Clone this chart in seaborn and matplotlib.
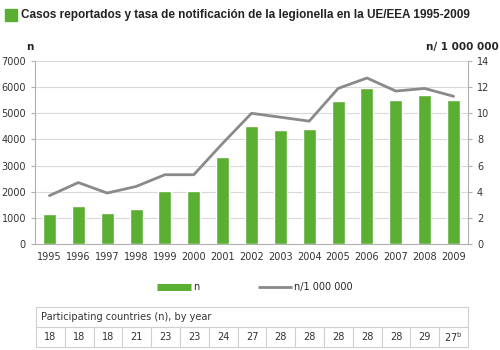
import matplotlib
matplotlib.use('Agg')
import matplotlib.pyplot as plt
import matplotlib.patches as mpatches
from matplotlib.lines import Line2D
import numpy as np
import seaborn as sns

years = ['1995', '1996', '1997', '1998', '1999', '2000', '2001', '2002',
         '2003', '2004', '2005', '2006', '2007', '2008', '2009']
cases = [1150, 1450, 1190, 1330, 2030, 2030, 3340, 4510,
         4370, 4400, 5480, 5980, 5520, 5700, 5520]
rates = [3.7, 4.7, 3.9, 4.4, 5.3, 5.3, 7.7, 10.0,
         9.7, 9.4, 11.9, 12.7, 11.7, 11.9, 11.3]
countries = ['18', '18', '18', '21', '23', '23', '24', '27',
             '28', '28', '28', '28', '28', '29', '27$^{\\mathrm{b}}$']

green = '#5aae32'
grey = '#8a8a8a'
gridc = '#d9d9d9'

sns.set_style('white')
plt.rcParams['font.family'] = ['DejaVu Sans']

fig = plt.figure(figsize=(5, 3.5), dpi=100)
ax = fig.add_axes([35/500, 106/350, 433/500, 183/350])

sns.barplot(x=years, y=cases, color=green, width=0.45, saturation=1, ax=ax, zorder=2)
ax.set_ylim(0, 7000)
ax.set_yticks(range(0, 7001, 1000))
ax.set_xlim(-0.5, len(years) - 0.5)
ax.yaxis.grid(True, color=gridc, lw=0.8, zorder=0)
ax.set_axisbelow(True)
for s in ['top', 'right']:
    ax.spines[s].set_visible(False)
ax.spines['left'].set_color('#b0b0b0')
ax.spines['bottom'].set_color('#b0b0b0')
ax.tick_params(axis='both', labelsize=7, colors='#333333', length=3, color='#b0b0b0')
ax.set_xticks(np.arange(-0.5, len(years), 1), minor=True)
ax.tick_params(axis='x', which='major', length=0, pad=6)
ax.tick_params(axis='x', which='minor', length=3, color='#b0b0b0')
ax.set_xlabel('')
ax.set_ylabel('')

ax2 = ax.twinx()
sns.lineplot(x=np.arange(len(years)), y=rates, color=grey, lw=2, ax=ax2)
ax2.set_ylim(0, 14)
ax2.set_yticks(range(0, 15, 2))
for s in ['top', 'left', 'bottom']:
    ax2.spines[s].set_visible(False)
ax2.spines['right'].set_color('#b0b0b0')
ax2.tick_params(axis='y', labelsize=7, colors='#333333', length=3, color='#b0b0b0')

fig.text(30/500, 1 - 47/350, 'n', fontsize=7.5, fontweight='bold', ha='center', va='center')
fig.text(499/500, 1 - 47/350, 'n/ 1 000 000', fontsize=7.5, fontweight='bold', ha='right', va='center')

# title
fig.patches.append(mpatches.Rectangle((5/500, 1 - 21/350), 12/500, 12/350,
                                      transform=fig.transFigure, color=green))
fig.text(21/500, 1 - 15/350, 'Casos reportados y tasa de notificación de la legionella en la UE/EEA 1995-2009',
         fontsize=8.5, fontweight='bold', family='Liberation Sans', ha='left', va='center', color='#222222')

handles = [Line2D([], [], color=green, lw=5, solid_capstyle='butt'),
           Line2D([], [], color=grey, lw=2, solid_capstyle='butt')]
fig.legend(handles, ['n', 'n/1 000 000'], loc='center', bbox_to_anchor=(0.51, 1 - 287/350),
           ncol=2, frameon=False, fontsize=7, handlelength=3.5, columnspacing=6, handletextpad=0.2)

# table
tax = fig.add_axes([36/500, 3/350, 432/500, 40/350])
tax.axis('off')
tbl = tax.table(cellText=[countries], cellLoc='center', bbox=[0, 0, 1, 0.5])
tbl.auto_set_font_size(False)
for cell in tbl.get_celld().values():
    cell.set_edgecolor('#d0d0d0')
    cell.set_linewidth(0.8)
    cell.get_text().set_fontsize(7)
    cell.get_text().set_color('#333333')
tax.add_patch(mpatches.Rectangle((0, 0.5), 1, 0.5, fill=False, edgecolor='#d0d0d0', lw=0.8,
                                 transform=tax.transAxes, clip_on=False))
tax.text(0.012, 0.75, 'Participating countries (n), by year', fontsize=7, color='#333333',
         ha='left', va='center', transform=tax.transAxes)

fig.savefig('out.png', dpi=100)
